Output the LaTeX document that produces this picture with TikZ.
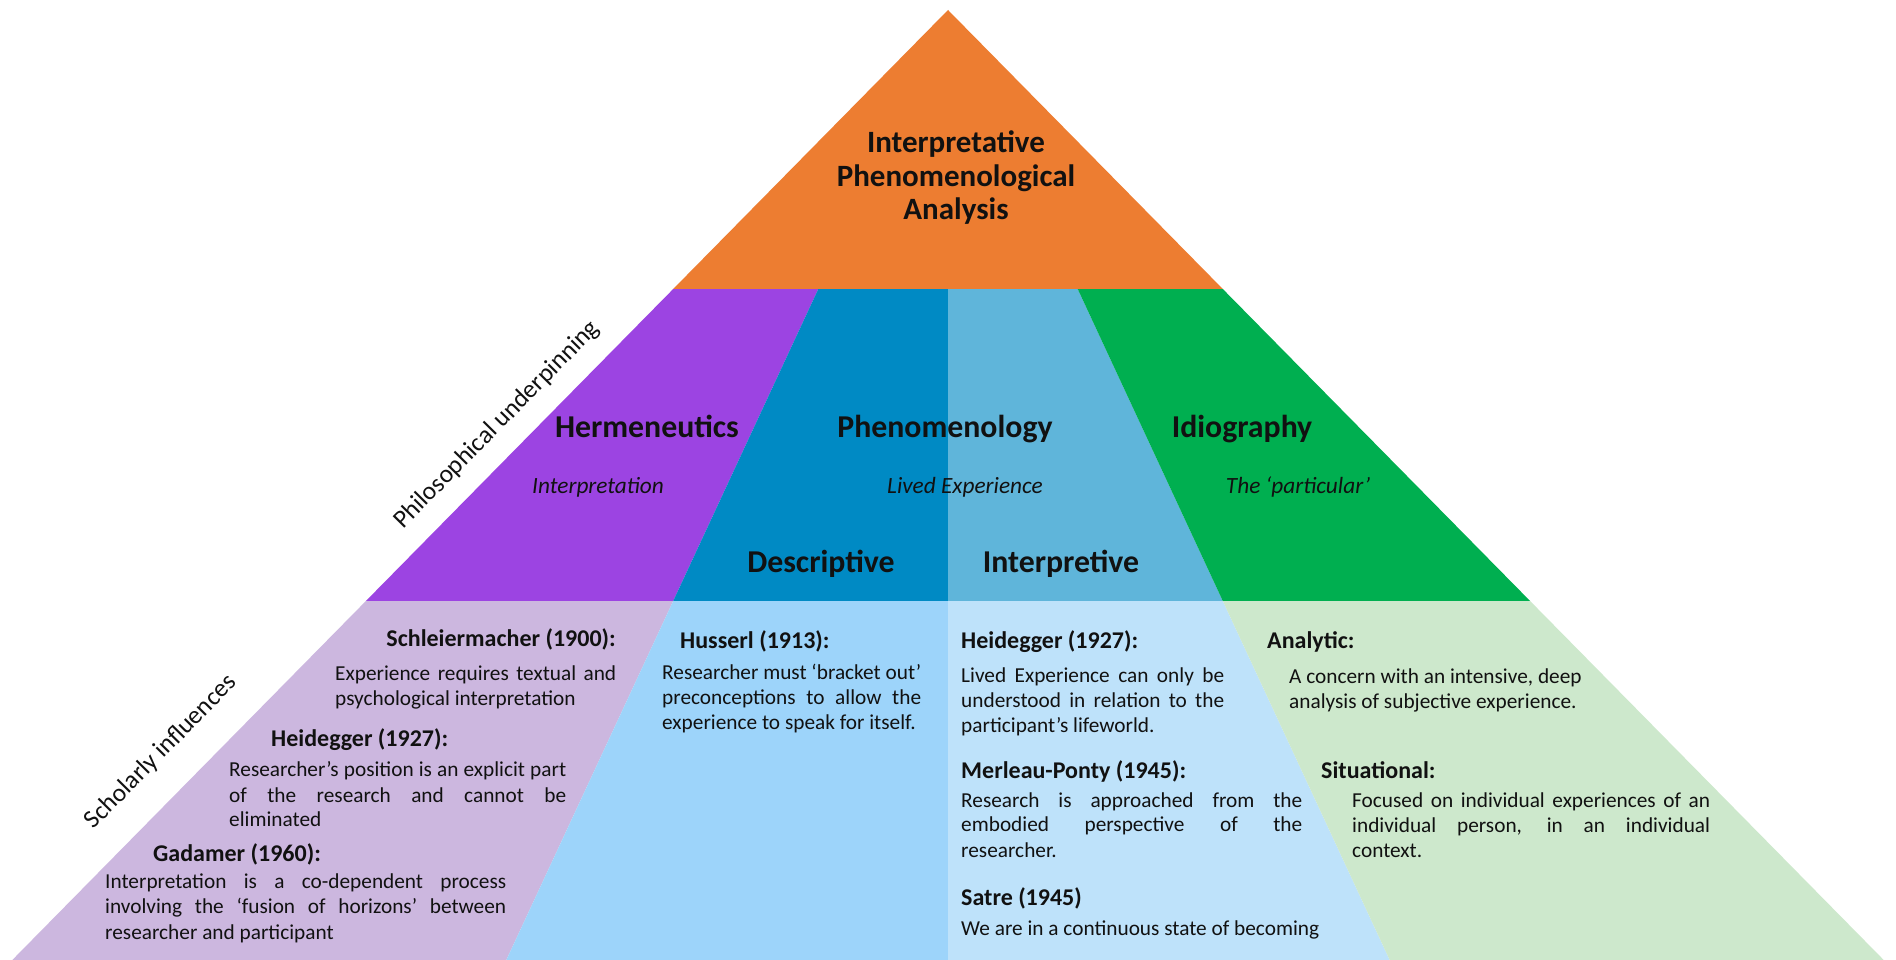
\documentclass[tikz,border=0pt]{standalone}
\usepackage{fontspec}
\setmainfont{Carlito}
\definecolor{cOrange}{HTML}{ED7D31}
\definecolor{cPurple}{HTML}{9C44E2}
\definecolor{cDark}{HTML}{008AC4}
\definecolor{cMid}{HTML}{5FB5DA}
\definecolor{cGreen}{HTML}{00AF50}
\definecolor{cLilac}{HTML}{CCB7DF}
\definecolor{cLB}{HTML}{9DD4FA}
\definecolor{cLLB}{HTML}{BEE2FA}
\definecolor{cLG}{HTML}{CDE8CC}
\definecolor{cText}{HTML}{111111}
\newcommand\jl[2]{\makebox[#1pt][s]{#2}}
\begin{document}
\begin{tikzpicture}[x=1pt,y=-1pt,
  body/.style={anchor=base west, inner sep=0pt, text=cText, font=\fontsize{21.3}{25}\selectfont},
  head/.style={anchor=base west, inner sep=0pt, text=cText, font=\fontsize{24}{28}\selectfont\bfseries},
  ttl/.style={anchor=base, inner sep=0pt, text=cText, font=\fontsize{31}{35}\selectfont\bfseries},
  tier/.style={anchor=base, inner sep=0pt, text=cText, font=\fontsize{31.8}{36}\selectfont\bfseries},
  sub/.style={anchor=base, inner sep=0pt, text=cText, font=\fontsize{23.3}{27}\selectfont\itshape},
  side/.style={inner sep=0pt, rotate=45.4, text=cText, font=\fontsize{25.5}{30}\selectfont},
]
\useasboundingbox (0,0) rectangle (1896,960);
\fill[white] (0,0) rectangle (1896,960);
% key points
\coordinate (A) at (948,10);
\coordinate (OL1) at (673.2,289); \coordinate (OL2) at (365.9,601); \coordinate (OL3) at (12.3,960);
\coordinate (OR1) at (1222.8,289); \coordinate (OR2) at (1530.1,601); \coordinate (OR3) at (1883.7,960);
\coordinate (IL1) at (818.3,289); \coordinate (IL2) at (673.2,601); \coordinate (IL3) at (506.3,960);
\coordinate (IR1) at (1077.7,289); \coordinate (IR2) at (1222.8,601); \coordinate (IR3) at (1389.7,960);
\coordinate (C1) at (948,289); \coordinate (C2) at (948,601); \coordinate (C3) at (948,960);
% fills
\fill[cOrange] (A) -- (OL1) -- (OR1) -- cycle;
\fill[cPurple] (OL1) -- (IL1) -- (IL2) -- (OL2) -- cycle;
\fill[cDark] (IL1) -- (C1) -- (C2) -- (IL2) -- cycle;
\fill[cMid] (C1) -- (IR1) -- (IR2) -- (C2) -- cycle;
\fill[cGreen] (IR1) -- (OR1) -- (OR2) -- (IR2) -- cycle;
\fill[cLilac] (OL2) -- (IL2) -- (IL3) -- (OL3) -- cycle;
\fill[cLB] (IL2) -- (C2) -- (C3) -- (IL3) -- cycle;
\fill[cLLB] (C2) -- (IR2) -- (IR3) -- (C3) -- cycle;
\fill[cLG] (IR2) -- (OR2) -- (OR3) -- (IR3) -- cycle;
% title
\node[ttl] (t1) at (956,153) {Interpretative};
\node[ttl] (t2) at (956,187) {Phenomenological};
\node[ttl] (t3) at (956,220) {Analysis};
% tier two
\node[tier] (herm) at (647,437) {Hermeneutics};
\node[tier] (phen) at (945,437) {Phenomenology};
\node[tier] (idio) at (1242,437) {Idiography};
\node[sub] (interp) at (598,493) {Interpretation};
\node[sub] (lived) at (965,493) {Lived Experience};
\node[sub] (partic) at (1298,493) {The ‘particular’};
\node[tier] (desc) at (821,572) {Descriptive};
\node[tier] (intv) at (1061,572) {Interpretive};
% side labels
\node[side] (phil) at (497,425) {Philosophical underpinning};
\node[side] (schol) at (161,752) {Scholarly influences};
% lilac block
\node[head, anchor=base east] (sh) at (616,646) {Schleiermacher (1900):};
\node[body] (s1) at (335,680) {\jl{281}{Experience requires textual and}};
\node[body] (s2) at (335,705) {psychological interpretation};
\node[head] (hh) at (271,746) {Heidegger (1927):};
\node[body] (h1) at (229,776) {\jl{337}{Researcher’s position is an explicit part}};
\node[body] (h2) at (229,802) {\jl{337}{of the research and cannot be}};
\node[body] (h3) at (229,826) {eliminated};
\node[head] (gh) at (153,861) {Gadamer (1960):};
\node[body] (g1) at (105,888) {\jl{401}{Interpretation is a co-dependent process}};
\node[body] (g2) at (105,913) {\jl{401}{involving the ‘fusion of horizons’ between}};
\node[body] (g3) at (105,939) {researcher and participant};
% descriptive block
\node[head] (uh) at (680,648) {Husserl (1913):};
\node[body] (u1) at (662,679) {\jl{259}{Researcher must ‘bracket out’}};
\node[body] (u2) at (662,704) {\jl{259}{preconceptions to allow the}};
\node[body] (u3) at (662,729) {experience to speak for itself.};
% interpretive block
\node[head] (rh) at (961,648) {Heidegger (1927):};
\node[body] (r1) at (961,682) {\jl{263}{Lived Experience can only be}};
\node[body] (r2) at (961,707) {\jl{263}{understood in relation to the}};
\node[body] (r3) at (961,732) {participant’s lifeworld.};
\node[head] (mh) at (961,778) {Merleau-Ponty (1945):};
\node[body] (m1) at (961,807) {\jl{341}{Research is approached from the}};
\node[body] (m2) at (961,831) {\jl{341}{embodied perspective of the}};
\node[body] (m3) at (961,857) {researcher.};
\node[head] (ph) at (961,905) {Satre (1945)};
\node[body] (p1) at (961,935) {We are in a continuous state of becoming};
% idiography block
\node[head] (ah) at (1267,648) {Analytic:};
\node[body] (a1) at (1289,683) {A concern with an intensive, deep};
\node[body] (a2) at (1289,708) {analysis of subjective experience.};
\node[head] (ih) at (1321,778) {Situational:};
\node[body] (i1) at (1352,807) {\jl{358}{Focused on individual experiences of an}};
\node[body] (i2) at (1352,832) {\jl{358}{individual person, in an individual}};
\node[body] (i3) at (1352,857) {context.};
\end{tikzpicture}
\end{document}
